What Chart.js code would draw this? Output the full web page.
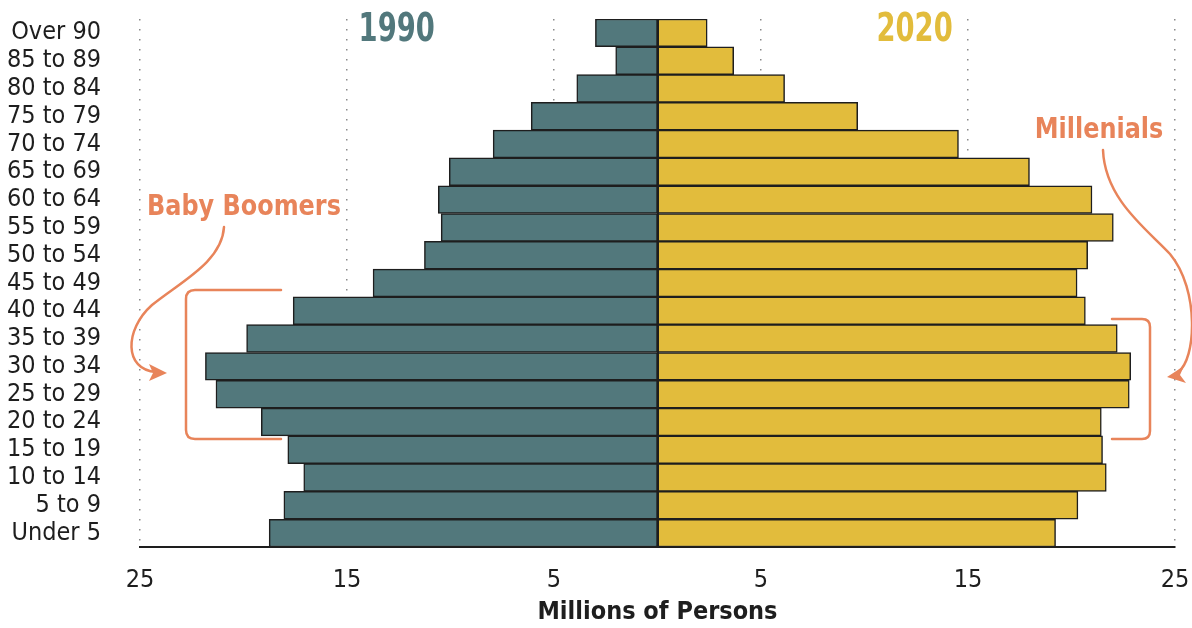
<!DOCTYPE html>
<html>
<head>
<meta charset="utf-8">
<script src="https://cdn.jsdelivr.net/npm/chart.js@4.4.1/dist/chart.umd.min.js"></script>
<style>
  html, body { margin: 0; padding: 0; background: #ffffff; }
  #wrap { width: 1192px; height: 628px; position: relative; }
</style>
</head>
<body>
<div id="wrap"><canvas id="c" width="1192" height="628"></canvas></div>
<script>
const categories = ["Over 90","85 to 89","80 to 84","75 to 79","70 to 74","65 to 69","60 to 64","55 to 59","50 to 54","45 to 49","40 to 44","35 to 39","30 to 34","25 to 29","20 to 24","15 to 19","10 to 14","5 to 9","Under 5"];
const pop1990 = [3.0, 2.02, 3.9, 6.1, 7.94, 10.06, 10.59, 10.45, 11.26, 13.74, 17.6, 19.85, 21.84, 21.33, 19.14, 17.86, 17.09, 18.05, 18.76];
const pop2020 = [2.4, 3.68, 6.14, 9.67, 14.54, 17.97, 20.99, 22.02, 20.78, 20.27, 20.67, 22.21, 22.86, 22.79, 21.44, 21.5, 21.68, 20.31, 19.23];
const xTicks = [-25, -15, -5, 5, 15, 25];
const seriesNames = ["1990", "2020"];
const axisTitle = "Millions of Persons";
const notes = ["Baby Boomers", "Millenials"];

const TEAL = '#52787c', GOLD = '#e2bc3c', ORANGE = '#e8845a', INK = '#1e1e1e';
const FONT = "'DejaVu Sans Condensed', 'Noto Sans', sans-serif";

function condensedText(ctx, text, x, y, sx) {
  ctx.save();
  ctx.translate(x, y);
  ctx.scale(sx, 1);
  ctx.fillText(text, 0, 0);
  ctx.restore();
}

const overlay = {
  id: 'overlay',
  afterDatasetsDraw(chart) {
    const ctx = chart.ctx, x = chart.scales.x, a = chart.chartArea;
    ctx.save();
    // center line
    ctx.strokeStyle = INK; ctx.lineWidth = 2;
    ctx.beginPath();
    const cx = Math.round(x.getPixelForValue(0));
    ctx.moveTo(cx, a.top); ctx.lineTo(cx, a.bottom); ctx.stroke();

    // series titles
    ctx.font = "bold 39px " + FONT;
    ctx.textAlign = 'center'; ctx.textBaseline = 'middle';
    ctx.fillStyle = TEAL; condensedText(ctx, seriesNames[0], x.getPixelForValue(-12.6), 31, 0.78);
    ctx.fillStyle = GOLD; condensedText(ctx, seriesNames[1], x.getPixelForValue(12.42), 31, 0.78);

    // annotations
    ctx.fillStyle = ORANGE; ctx.strokeStyle = ORANGE;
    ctx.font = "bold 28px " + FONT;
    condensedText(ctx, notes[0], 244, 208, 0.95);
    condensedText(ctx, notes[1], 1099, 131, 0.95);

    ctx.lineWidth = 2.5; ctx.lineCap = 'round'; ctx.lineJoin = 'round';
    // Baby Boomers curve
    ctx.beginPath();
    ctx.moveTo(224, 227);
    ctx.bezierCurveTo(222, 262, 180, 282, 152, 305);
    ctx.bezierCurveTo(124, 330, 124, 370, 156, 372);
    ctx.stroke();
    ctx.beginPath();
    ctx.moveTo(167, 373); ctx.lineTo(149, 364); ctx.lineTo(153, 373); ctx.lineTo(149, 381); ctx.closePath(); ctx.fill();
    // Baby Boomers bracket
    ctx.beginPath();
    ctx.moveTo(281, 290); ctx.lineTo(195, 290);
    ctx.quadraticCurveTo(186, 290, 186, 299);
    ctx.lineTo(186, 430);
    ctx.quadraticCurveTo(186, 439, 195, 439);
    ctx.lineTo(281, 439);
    ctx.stroke();

    // Millenials curve
    ctx.beginPath();
    ctx.moveTo(1103, 150);
    ctx.bezierCurveTo(1105, 200, 1148, 230, 1170, 254);
    ctx.bezierCurveTo(1200, 290, 1196, 360, 1178, 372);
    ctx.stroke();
    ctx.beginPath();
    ctx.moveTo(1167, 377); ctx.lineTo(1184, 366); ctx.lineTo(1180, 375); ctx.lineTo(1186, 383); ctx.closePath(); ctx.fill();
    // Millenials bracket
    ctx.beginPath();
    ctx.moveTo(1112, 319); ctx.lineTo(1142, 319);
    ctx.quadraticCurveTo(1150, 319, 1150, 327);
    ctx.lineTo(1150, 431);
    ctx.quadraticCurveTo(1150, 439, 1142, 439);
    ctx.lineTo(1112, 439);
    ctx.stroke();
    ctx.restore();
  }
};

new Chart(document.getElementById('c'), {
  type: 'bar',
  data: {
    labels: categories,
    datasets: [
      { label: seriesNames[0], data: pop1990.map(v => -v), backgroundColor: TEAL, borderColor: INK, borderWidth: 1.5, borderSkipped: false, barPercentage: 1, categoryPercentage: 1 },
      { label: seriesNames[1], data: pop2020, backgroundColor: GOLD, borderColor: INK, borderWidth: 1.5, borderSkipped: false, barPercentage: 1, categoryPercentage: 1 }
    ]
  },
  options: {
    indexAxis: 'y',
    responsive: false,
    animation: false,
    layout: { padding: { left: 0, right: 17, top: 19, bottom: 0 } },
    plugins: { legend: { display: false }, tooltip: { enabled: false } },
    scales: {
      x: {
        stacked: true,
        min: -25, max: 25,
        afterBuildTicks(scale) { scale.ticks = xTicks.map(v => ({ value: v })); },
        afterFit(scale) { scale.height = 81; },
        ticks: { callback: v => String(Math.abs(v)), color: INK, font: { family: FONT, size: 25 }, padding: 0, maxRotation: 0 },
        grid: { color: '#8a8a8a', lineWidth: 1.5, drawTicks: true, tickLength: 18, tickColor: 'rgba(0,0,0,0)' },
        border: { display: true, color: INK, width: 2, dash: [1.5, 8.5] },
        title: { display: true, text: axisTitle, color: INK, font: { family: FONT, size: 25, weight: 'bold' }, padding: { top: 0, bottom: 1 } }
      },
      y: {
        stacked: true,
        afterFit(scale) { scale.width = 140; },
        ticks: { color: INK, font: { family: FONT, size: 25 }, padding: 3, autoSkip: false },
        grid: { display: false, drawTicks: true, tickLength: 36 },
        border: { display: false }
      }
    }
  },
  plugins: [overlay]
});
</script>
</body>
</html>
